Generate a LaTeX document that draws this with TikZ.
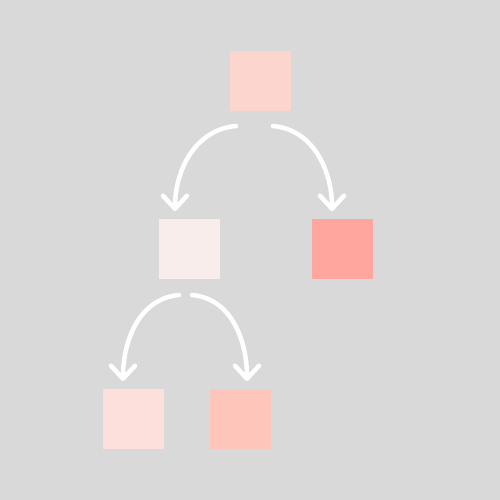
\documentclass[tikz,border=0pt]{standalone}
\usetikzlibrary{arrows.meta}
\definecolor{bg}{HTML}{D9D9D9}
\definecolor{cA}{HTML}{FCD5CE}
\definecolor{cB}{HTML}{F8EDEB}
\definecolor{cC}{HTML}{FFA69E}
\definecolor{cD}{HTML}{FDE0DB}
\definecolor{cE}{HTML}{FEC5BB}
\tikzset{
  sq/.style={draw=none,fill=#1,minimum width=61pt,minimum height=60pt,inner sep=0pt,outer sep=0pt},
  arr/.style={draw=white,line width=4.5pt,line cap=round,-{Straight Barb[length=13pt,width=24pt,line cap=round,line join=round]}}
}
\begin{document}
\begin{tikzpicture}[x=1pt,y=-1pt]
\fill[bg] (0,0) rectangle (500,500);
\useasboundingbox (0,0) rectangle (500,500);
\node[sq=cA] (top) at (260,81) {};
\node[sq=cB] (ml) at (189,249) {};
\node[sq=cC] (mr) at (342,249) {};
\node[sq=cD] (bl) at (133,419) {};
\node[sq=cE] (br) at (240,419) {};
\coordinate (t1) at ([xshift=-24pt,yshift=-15pt]top.south);
\coordinate (t2) at ([xshift=13pt,yshift=-15pt]top.south);
\coordinate (e1) at ([xshift=-14pt,yshift=8pt]ml.north);
\coordinate (e2) at ([xshift=-10pt,yshift=8pt]mr.north);
\coordinate (s1) at ([xshift=-10pt,yshift=-16pt]ml.south);
\coordinate (s2) at ([xshift=3pt,yshift=-16pt]ml.south);
\coordinate (f1) at ([xshift=-10pt,yshift=8pt]bl.north);
\coordinate (f2) at ([xshift=7pt,yshift=8pt]br.north);
\draw[arr] (t1) to[out=185,in=90] (e1);
\draw[arr] (t2) to[out=-5,in=90] (e2);
\draw[arr] (s1) to[out=185,in=90] (f1);
\draw[arr] (s2) to[out=-5,in=90] (f2);
\end{tikzpicture}
\end{document}
